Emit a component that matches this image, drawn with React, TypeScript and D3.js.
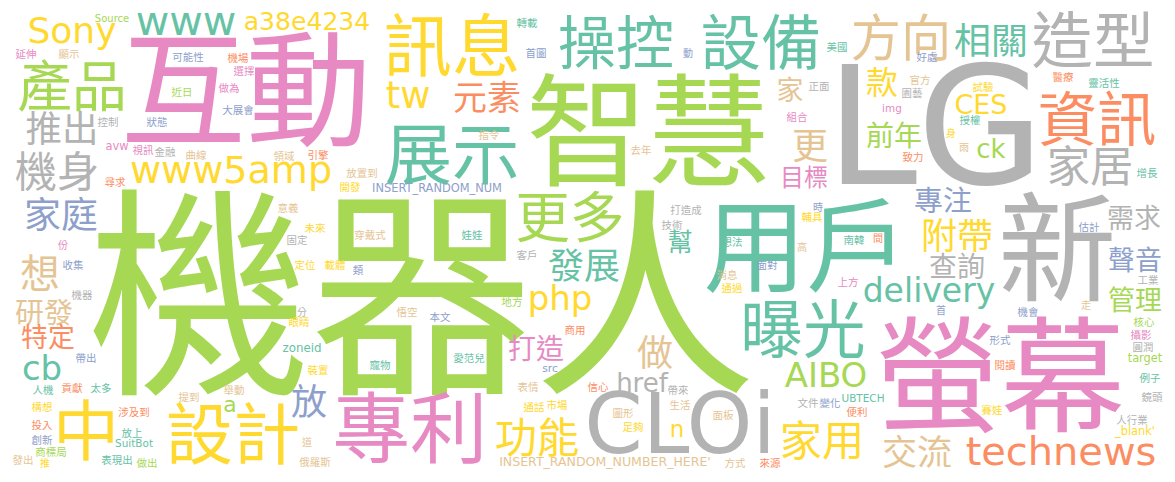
import React, { useRef, useEffect } from "react";
import { select, scaleLinear, schemeSet2 } from "d3";

const WIDTH = 1175;
const HEIGHT = 482;

// word + relative frequency (100 = largest font size)
const words: [string, number][] = [
  ["機器人", 97.8], ["LG", 72], ["互動", 55], ["智慧", 53.5], ["新", 52], ["螢幕", 55],
  ["用戶", 45], ["專利", 34], ["CLOi", 36.8], ["設計", 29.5], ["中", 29], ["展示", 29.5],
  ["訊息", 30], ["操控", 25.5], ["設備", 26.5], ["造型", 27], ["資訊", 26], ["曝光", 27.5],
  ["產品", 24], ["更多", 24], ["方向", 22], ["家居", 19], ["機身", 18.5], ["功能", 18.5],
  ["家用", 18.5], ["Sony", 15.8], ["www", 18], ["www5amp", 16.7], ["technews", 17.5], ["想", 17.5],
  ["推出", 16], ["家庭", 16.2], ["相關", 16.2], ["附帶", 15.8], ["做", 15.8], ["更", 15.8],
  ["放", 15.8], ["發展", 15.8], ["交流", 15.4], ["tw", 16.2], ["cb", 14.9], ["php", 14.9],
  ["AIBO", 14.9], ["元素", 14.9], ["delivery", 14.5], ["款", 14], ["研發", 12.7], ["專注", 12.7],
  ["打造", 12.3], ["前年", 12.3], ["查詢", 12.3], ["特定", 11.8], ["需求", 11.8], ["聲音", 11.8],
  ["管理", 11.8], ["href", 11.4], ["CES", 11.8], ["ck", 11.4], ["家", 11.8], ["a38e4234", 11],
  ["n", 10], ["a", 9.6], ["幫", 11], ["目標", 10.5],
  ["Source", 4.4], ["avw", 5], ["INSERT_RANDOM_NUM", 5], ["zoneid", 5.2], ["src", 4.7], ["INSERT_RANDOM_NUMBER_HERE'", 5.5],
  ["UBTECH", 4.6], ["img", 4.6], ["target", 5], ["_blank'", 5], ["SuitBot", 4.6],
  ["延伸", 4.6], ["顯示", 4.6], ["可能性", 4.6], ["機場", 4.6], ["選擇", 4.6], ["近日", 4.6], ["做為", 4.6], ["大展會", 4.6],
  ["控制", 4.6], ["狀態", 4.6], ["視訊", 4.6], ["金融", 4.6], ["曲線", 4.6], ["領域", 4.6], ["尋求", 4.6], ["意義", 4.6],
  ["份", 4.4], ["固定", 4.6], ["收集", 4.6], ["機器", 4.6], ["定位", 4.6], ["載體", 4.6], ["類", 4.6], ["未來", 4.6],
  ["穿戴式", 4.6], ["娃娃", 4.6], ["放置到", 4.6], ["開發", 4.6], ["客戶", 4.6], ["地方", 4.6], ["悟空", 4.6], ["本文", 4.6],
  ["分", 4.4], ["眼睛", 4.6], ["裝置", 4.6], ["道", 4.4], ["俄羅斯", 4.6], ["寵物", 4.6], ["愛范兒", 4.6], ["表情", 4.6],
  ["通話", 4.6], ["市場", 4.6], ["商用", 4.6], ["帶來", 4.6], ["信心", 4.6], ["生活", 4.6], ["圖形", 4.6], ["足夠", 4.6],
  ["面板", 4.6], ["方式", 4.6], ["來源", 4.6], ["文件", 4.6], ["變化", 4.6], ["便利", 4.6], ["轉載", 4.6], ["首圖", 4.6],
  ["指令", 4.6], ["引擎", 4.6], ["動", 4.4], ["美國", 4.6], ["正面", 4.6], ["組合", 4.6], ["去年", 4.6], ["好處", 4.6],
  ["官方", 4.6], ["園藝", 4.6], ["試驗", 4.6], ["授權", 4.6], ["身", 4.4], ["雨", 4.4], ["致力", 4.6], ["醫療", 4.6],
  ["靈活性", 4.6], ["增長", 4.6], ["估計", 4.6], ["工業", 4.6], ["走", 4.4], ["機會", 4.6], ["首", 4.4], ["核心", 4.6],
  ["打造成", 4.6], ["技術", 4.6], ["時", 4.4], ["輔具", 4.6], ["想法", 4.6], ["高", 4.4], ["南韓", 4.6], ["間", 4.4],
  ["面對", 4.6], ["消息", 4.6], ["通過", 4.6], ["上方", 4.6], ["形式", 4.6], ["攝影", 4.6], ["圓潤", 4.6], ["閱讀", 4.6],
  ["例子", 4.6], ["鏡頭", 4.6], ["賽娃", 4.6], ["人行業", 4.6], ["帶出", 4.6], ["人機", 4.6], ["貢獻", 4.6], ["太多", 4.6],
  ["提到", 4.6], ["舉動", 4.6], ["構想", 4.6], ["涉及到", 4.6], ["投入", 4.6], ["放上", 4.6], ["創新", 4.6], ["商標局", 4.6],
  ["發出", 4.6], ["推", 4.4], ["表現出", 4.6], ["做出", 4.6],
];

// where the cloud layout put each word (centre, in the 1175x482 frame)
const spots: [number, number][] = [
  [422, 292], [935, 127], [246, 88], [648, 130], [1057, 247], [1000, 374],
  [806, 245], [410, 428], [680, 424], [233, 433], [86, 430], [452, 153],
  [452, 45], [616, 42], [761, 42], [1093, 40], [1097, 118], [803, 328],
  [72, 85], [570, 216], [901, 37], [1090, 166], [57, 171], [537, 437],
  [822, 440], [72, 30], [186, 21], [231, 170], [1061, 451], [40, 273],
  [62, 128], [61, 214], [991, 40], [957, 235], [655, 352], [810, 145],
  [309, 401], [584, 265], [917, 452], [408, 95], [42, 368], [560, 298],
  [826, 375], [487, 97], [929, 290], [882, 82], [44, 312], [943, 200],
  [536, 348], [894, 135], [957, 266], [48, 337], [1134, 218], [1135, 260],
  [1135, 300], [642, 383], [981, 105], [991, 149], [790, 90], [307, 21],
  [677, 429], [230, 404], [680, 241], [804, 177],
  [112, 18], [117, 146], [437, 188], [302, 348], [550, 368], [605, 462],
  [863, 398], [892, 108], [1145, 358], [1135, 431], [134, 443],
  [26, 54], [69, 54], [188, 57], [238, 58], [244, 71], [182, 92], [229, 88], [238, 110],
  [108, 122], [157, 122], [143, 150], [165, 152], [196, 155], [284, 156], [115, 182], [288, 208],
  [63, 245], [297, 240], [73, 265], [82, 295], [305, 265], [335, 265], [358, 270], [315, 228],
  [370, 235], [472, 235], [362, 173], [350, 187], [527, 255], [512, 302], [407, 312], [440, 317],
  [302, 312], [299, 322], [318, 370], [307, 442], [315, 462], [380, 365], [469, 358], [528, 387],
  [534, 407], [557, 405], [575, 330], [678, 390], [598, 387], [680, 405], [623, 413], [633, 427],
  [723, 415], [735, 463], [770, 463], [808, 403], [830, 403], [857, 412], [527, 23], [536, 53],
  [489, 135], [318, 155], [688, 53], [837, 47], [819, 86], [797, 117], [641, 150], [927, 57],
  [920, 80], [912, 93], [983, 87], [970, 120], [951, 133], [964, 147], [913, 157], [1063, 77],
  [1104, 83], [1147, 173], [1089, 227], [1148, 280], [1086, 305], [1028, 312], [941, 310], [1144, 322],
  [686, 210], [672, 225], [818, 207], [812, 217], [732, 242], [802, 247], [854, 240], [878, 238],
  [767, 265], [727, 275], [732, 288], [848, 282], [1000, 340], [1141, 335], [1143, 347], [1005, 365],
  [1150, 378], [1152, 397], [992, 410], [1132, 420], [86, 358], [43, 390], [72, 388], [101, 388],
  [189, 397], [234, 390], [42, 407], [134, 412], [42, 425], [132, 433], [42, 440], [51, 452],
  [23, 460], [45, 463], [117, 460], [147, 463],
];

// index into d3.schemeSet2 for every word
const tones: number[] = [
  4, 7, 3, 4, 7, 3,
  0, 3, 7, 5, 5, 0,
  5, 0, 0, 7, 1, 0,
  4, 4, 6, 7, 7, 5,
  5, 5, 0, 5, 1, 6,
  7, 2, 0, 5, 6, 6,
  2, 0, 6, 5, 0, 5,
  4, 1, 0, 5, 6, 2,
  3, 4, 7, 1, 7, 2,
  4, 7, 5, 4, 6, 5,
  5, 4, 0, 3,
  4, 3, 2, 0, 2, 6,
  0, 3, 4, 5, 0,
  3, 6, 2, 1, 3, 4, 3, 2,
  7, 2, 3, 7, 6, 6, 1, 6,
  3, 7, 2, 7, 5, 5, 2, 5,
  6, 0, 6, 5, 7, 4, 6, 2,
  7, 5, 5, 6, 6, 0, 0, 6,
  5, 5, 1, 7, 1, 6, 6, 5,
  6, 6, 1, 7, 2, 1, 0, 2,
  6, 1, 2, 0, 7, 3, 6, 2,
  6, 7, 5, 0, 5, 6, 1, 1,
  0, 0, 2, 7, 6, 2, 2, 4,
  7, 7, 2, 5, 0, 6, 0, 1,
  2, 6, 5, 3, 2, 3, 7, 1,
  0, 7, 5, 7, 2, 0, 1, 0,
  6, 6, 5, 1, 1, 0, 2, 4,
  6, 5, 0, 4,
];

const cjk = /[\u3400-\u9fff]/;

const WordCloud: React.FC = () => {
  const svgRef = useRef<SVGSVGElement>(null);

  useEffect(() => {
    const size = scaleLinear().domain([0, 100]).range([0, 228]);
    const x = scaleLinear().domain([0, 1175]).range([0, WIDTH]);
    const y = scaleLinear().domain([0, 482]).range([0, HEIGHT]);

    const data = words.map(([text, w], i) => ({
      text,
      fs: size(w),
      cx: spots[i][0],
      cy: spots[i][1],
      tone: tones[i],
    }));

    select(svgRef.current)
      .selectAll("text")
      .data(data)
      .join("text")
      .attr("x", (d) => x(d.cx))
      // shift from visual centre down to the alphabetic baseline
      .attr("y", (d) => y(d.cy) + d.fs * (cjk.test(d.text) ? 0.38 : 0.35))
      .attr("text-anchor", "middle")
      .attr("font-size", (d) => d.fs)
      .attr("fill", (d) => schemeSet2[d.tone])
      .text((d) => d.text);
  }, []);

  return (
    <svg
      ref={svgRef}
      width={WIDTH}
      height={HEIGHT}
      style={{ position: "absolute", left: 0, top: 0, background: "#fff" }}
      fontFamily='"DejaVu Sans", "Noto Sans CJK TC", sans-serif'
    />
  );
};

export default function App() {
  return <WordCloud />;
}
